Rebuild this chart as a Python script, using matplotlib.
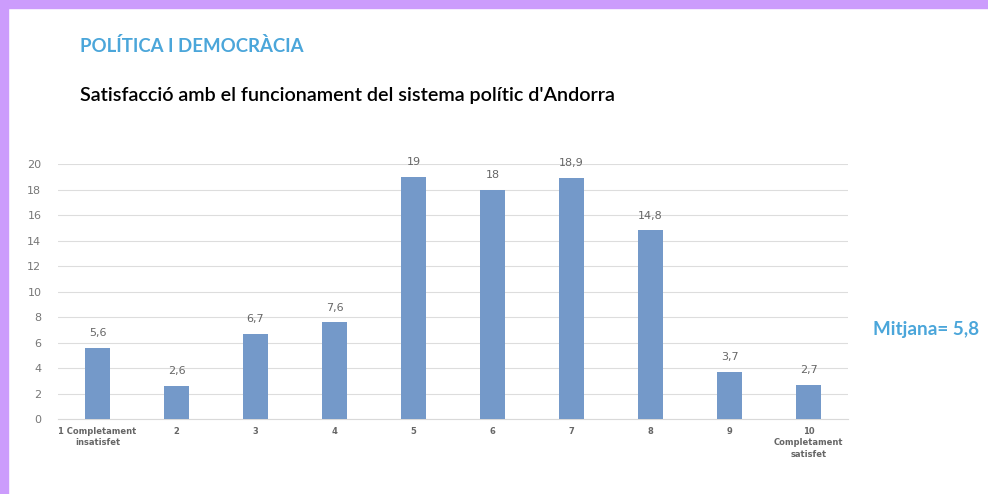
import matplotlib
matplotlib.use("Agg")
import matplotlib.pyplot as plt
from matplotlib.patches import Rectangle

categories = ["1 Completament\ninsatisfet", "2", "3", "4", "5", "6", "7", "8", "9", "10\nCompletament\nsatisfet"]
values = [5.6, 2.6, 6.7, 7.6, 19, 18, 18.9, 14.8, 3.7, 2.7]
value_labels = ["5,6", "2,6", "6,7", "7,6", "19", "18", "18,9", "14,8", "3,7", "2,7"]
yticks = [0, 2, 4, 6, 8, 10, 12, 14, 16, 18, 20]

fig = plt.figure(figsize=(9.88, 4.94), dpi=100)
fig.patch.set_facecolor("white")

# purple frame
purple = "#CC9CFC"
fig.add_artist(Rectangle((0, 1 - 8/494), 1, 8/494, transform=fig.transFigure, color=purple, zorder=0))
fig.add_artist(Rectangle((0, 0), 8/988, 1, transform=fig.transFigure, color=purple, zorder=0))

ax = fig.add_axes([58/988, 75/494, 790/988, 255/494])
x = list(range(len(categories)))
ax.bar(x, values, width=0.32, color="#7499C9", zorder=3)
for xi, v, lab in zip(x, values, value_labels):
    ax.text(xi, v + 0.75, lab, ha="center", va="bottom", fontsize=8, color="#666666")

ax.set_xlim(-0.5, len(categories) - 0.5)
ax.set_ylim(0, 20)
ax.set_yticks(yticks)
ax.set_yticklabels([str(t) for t in yticks], fontsize=8, color="#777777")
ax.set_xticks(x)
ax.set_xticklabels(categories, fontsize=6, fontweight="bold", color="#666666", linespacing=1.3)
ax.tick_params(axis="both", length=0, pad=6)
ax.tick_params(axis="y", pad=12)
ax.grid(axis="y", color="#DDDDDD", linewidth=0.8, zorder=0)
for s in ["top", "right", "left"]:
    ax.spines[s].set_visible(False)
ax.spines["bottom"].set_color("#D9D9D9")

fig.text(80/988, 1 - 46/494, "POLÍTICA I DEMOCRÀCIA", fontsize=13.4, fontweight="bold",
         color="#4BA6DA", family="Lato", va="center", ha="left")
fig.text(80/988, 1 - 95/494, "Satisfacció amb el funcionament del sistema polític d'Andorra", fontsize=14.2,
         fontweight="semibold", color="black", family="Lato", va="center", ha="left")
fig.text(873/988, 1 - 330/494, "Mitjana= 5,8", fontsize=13.6, fontweight="bold",
         color="#4BA6DA", family="Lato", va="center", ha="left")

fig.savefig("out.png", dpi=100)
